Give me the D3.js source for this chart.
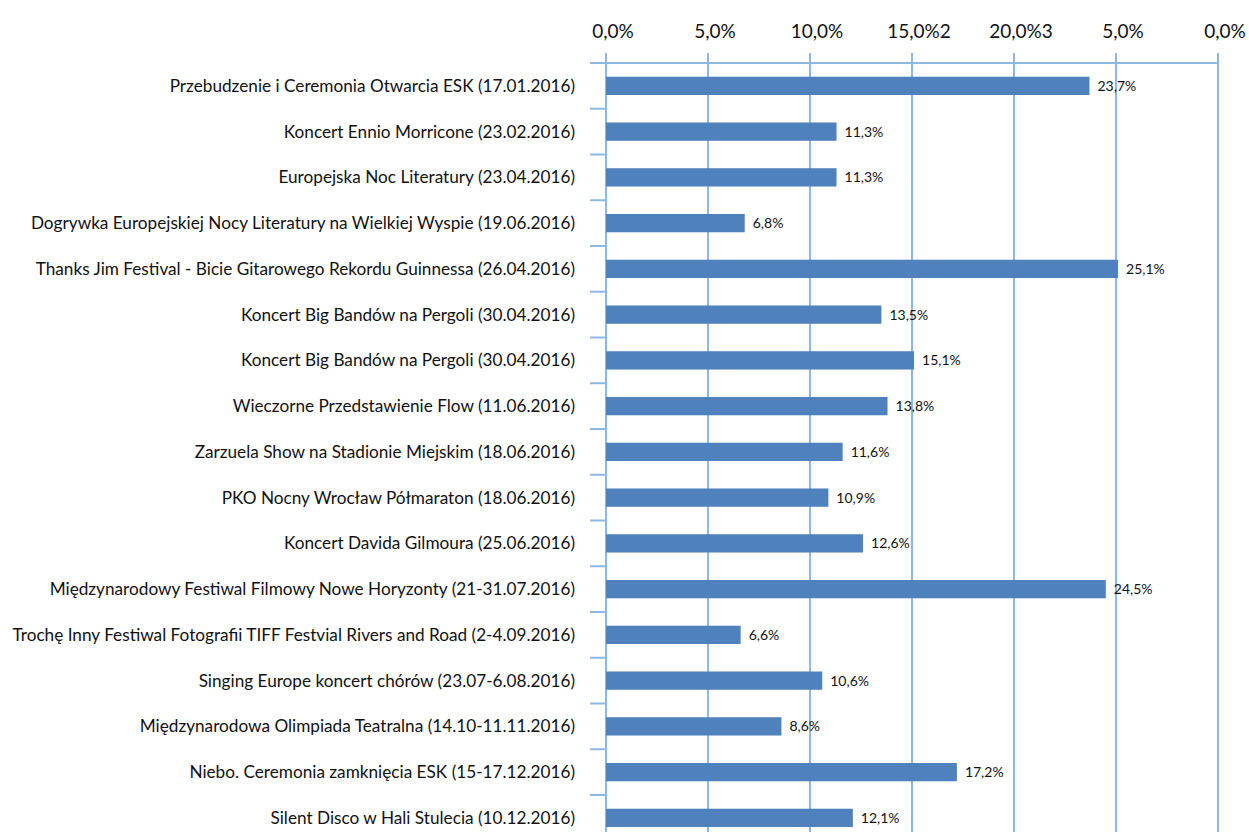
<!DOCTYPE html>
<html>
<head>
<meta charset="utf-8">
<script src="https://cdn.jsdelivr.net/npm/d3@7"></script>
<style>
  body { margin: 0; background: #fff; }
  text { font-family: Lato, "Open Sans", sans-serif; fill: #111; }
</style>
</head>
<body>
<div id="chart"></div>
<script>
const width = 1249;
const height = 832;
const margin = { top: 63, left: 606, right: 31 };
const bandStep = 45.75;

const categories = [
  'Przebudzenie i Ceremonia Otwarcia ESK (17.01.2016)',
  'Koncert Ennio Morricone (23.02.2016)',
  'Europejska Noc Literatury (23.04.2016)',
  'Dogrywka Europejskiej Nocy Literatury na Wielkiej Wyspie (19.06.2016)',
  'Thanks Jim Festival - Bicie Gitarowego Rekordu Guinnessa (26.04.2016)',
  'Koncert Big Bandów na Pergoli (30.04.2016)',
  'Koncert Big Bandów na Pergoli (30.04.2016)',
  'Wieczorne Przedstawienie Flow (11.06.2016)',
  'Zarzuela Show na Stadionie Miejskim (18.06.2016)',
  'PKO Nocny Wrocław Półmaraton (18.06.2016)',
  'Koncert Davida Gilmoura (25.06.2016)',
  'Międzynarodowy Festiwal Filmowy Nowe Horyzonty (21-31.07.2016)',
  'Trochę Inny Festiwal Fotografii TIFF Festvial Rivers and Road (2-4.09.2016)',
  'Singing Europe koncert chórów (23.07-6.08.2016)',
  'Międzynarodowa Olimpiada Teatralna (14.10-11.11.2016)',
  'Niebo. Ceremonia zamknięcia ESK (15-17.12.2016)',
  'Silent Disco w Hali Stulecia (10.12.2016)'
];
const values = [23.7, 11.3, 11.3, 6.8, 25.1, 13.5, 15.1, 13.8, 11.6, 10.9, 12.6, 24.5, 6.6, 10.6, 8.6, 17.2, 12.1];
const tickValues = [0, 5, 10, 15, 20, 25, 30];
// tick labels as they appear in the source picture
const tickLabels = ['0,0%', '5,0%', '10,0%', '15,0%2', '20,0%3', '5,0%', '0,0%'];

const gridColor = '#8db8e3';
const barColor = '#4f81bd';
const fmt = v => v.toFixed(1).replace('.', ',') + '%';

const data = categories.map((c, i) => ({ i, name: c, value: values[i] }));

const svg = d3.select('#chart').append('svg')
  .attr('width', width)
  .attr('height', height);

const x = d3.scaleLinear()
  .domain([0, 30])
  .range([margin.left, width - margin.right]);

const y = d3.scaleBand()
  .domain(data.map(d => d.i))
  .range([margin.top, margin.top + bandStep * data.length])
  .paddingInner(0.6)
  .paddingOuter(0.3);

// vertical gridlines
svg.append('g').selectAll('line')
  .data(tickValues)
  .join('line')
  .attr('x1', d => x(d)).attr('x2', d => x(d))
  .attr('y1', margin.top - 10).attr('y2', height)
  .attr('stroke', gridColor)
  .attr('stroke-width', 2);

// top axis line
svg.append('line')
  .attr('x1', margin.left - 16).attr('x2', x(30) + 1)
  .attr('y1', margin.top).attr('y2', margin.top)
  .attr('stroke', gridColor)
  .attr('stroke-width', 2);

// category boundary ticks on the left axis
svg.append('g').selectAll('line')
  .data(d3.range(data.length + 1))
  .join('line')
  .attr('x1', margin.left - 16).attr('x2', margin.left)
  .attr('y1', k => margin.top + k * bandStep).attr('y2', k => margin.top + k * bandStep)
  .attr('stroke', gridColor)
  .attr('stroke-width', 2);

// top tick labels
svg.append('g').selectAll('text')
  .data(tickValues)
  .join('text')
  .attr('x', d => x(d) + 7)
  .attr('y', 38)
  .attr('text-anchor', 'middle')
  .style('font-size', '19px')
  .text((d, i) => tickLabels[i]);

// bars
svg.append('g').selectAll('rect')
  .data(data)
  .join('rect')
  .attr('x', x(0))
  .attr('y', d => y(d.i))
  .attr('width', d => x(d.value) - x(0))
  .attr('height', y.bandwidth())
  .attr('fill', barColor);

// value labels
svg.append('g').selectAll('text')
  .data(data)
  .join('text')
  .attr('x', d => x(d.value) + 8)
  .attr('y', d => y(d.i) + y.bandwidth() / 2)
  .attr('dy', '0.35em')
  .style('font-size', '14px')
  .text(d => fmt(d.value));

// category labels
svg.append('g').selectAll('text')
  .data(data)
  .join('text')
  .attr('x', margin.left - 31)
  .attr('y', d => y(d.i) + y.bandwidth() / 2)
  .attr('dy', '0.35em')
  .attr('text-anchor', 'end')
  .style('font-size', '17.2px')
  .text(d => d.name);
</script>
</body>
</html>
